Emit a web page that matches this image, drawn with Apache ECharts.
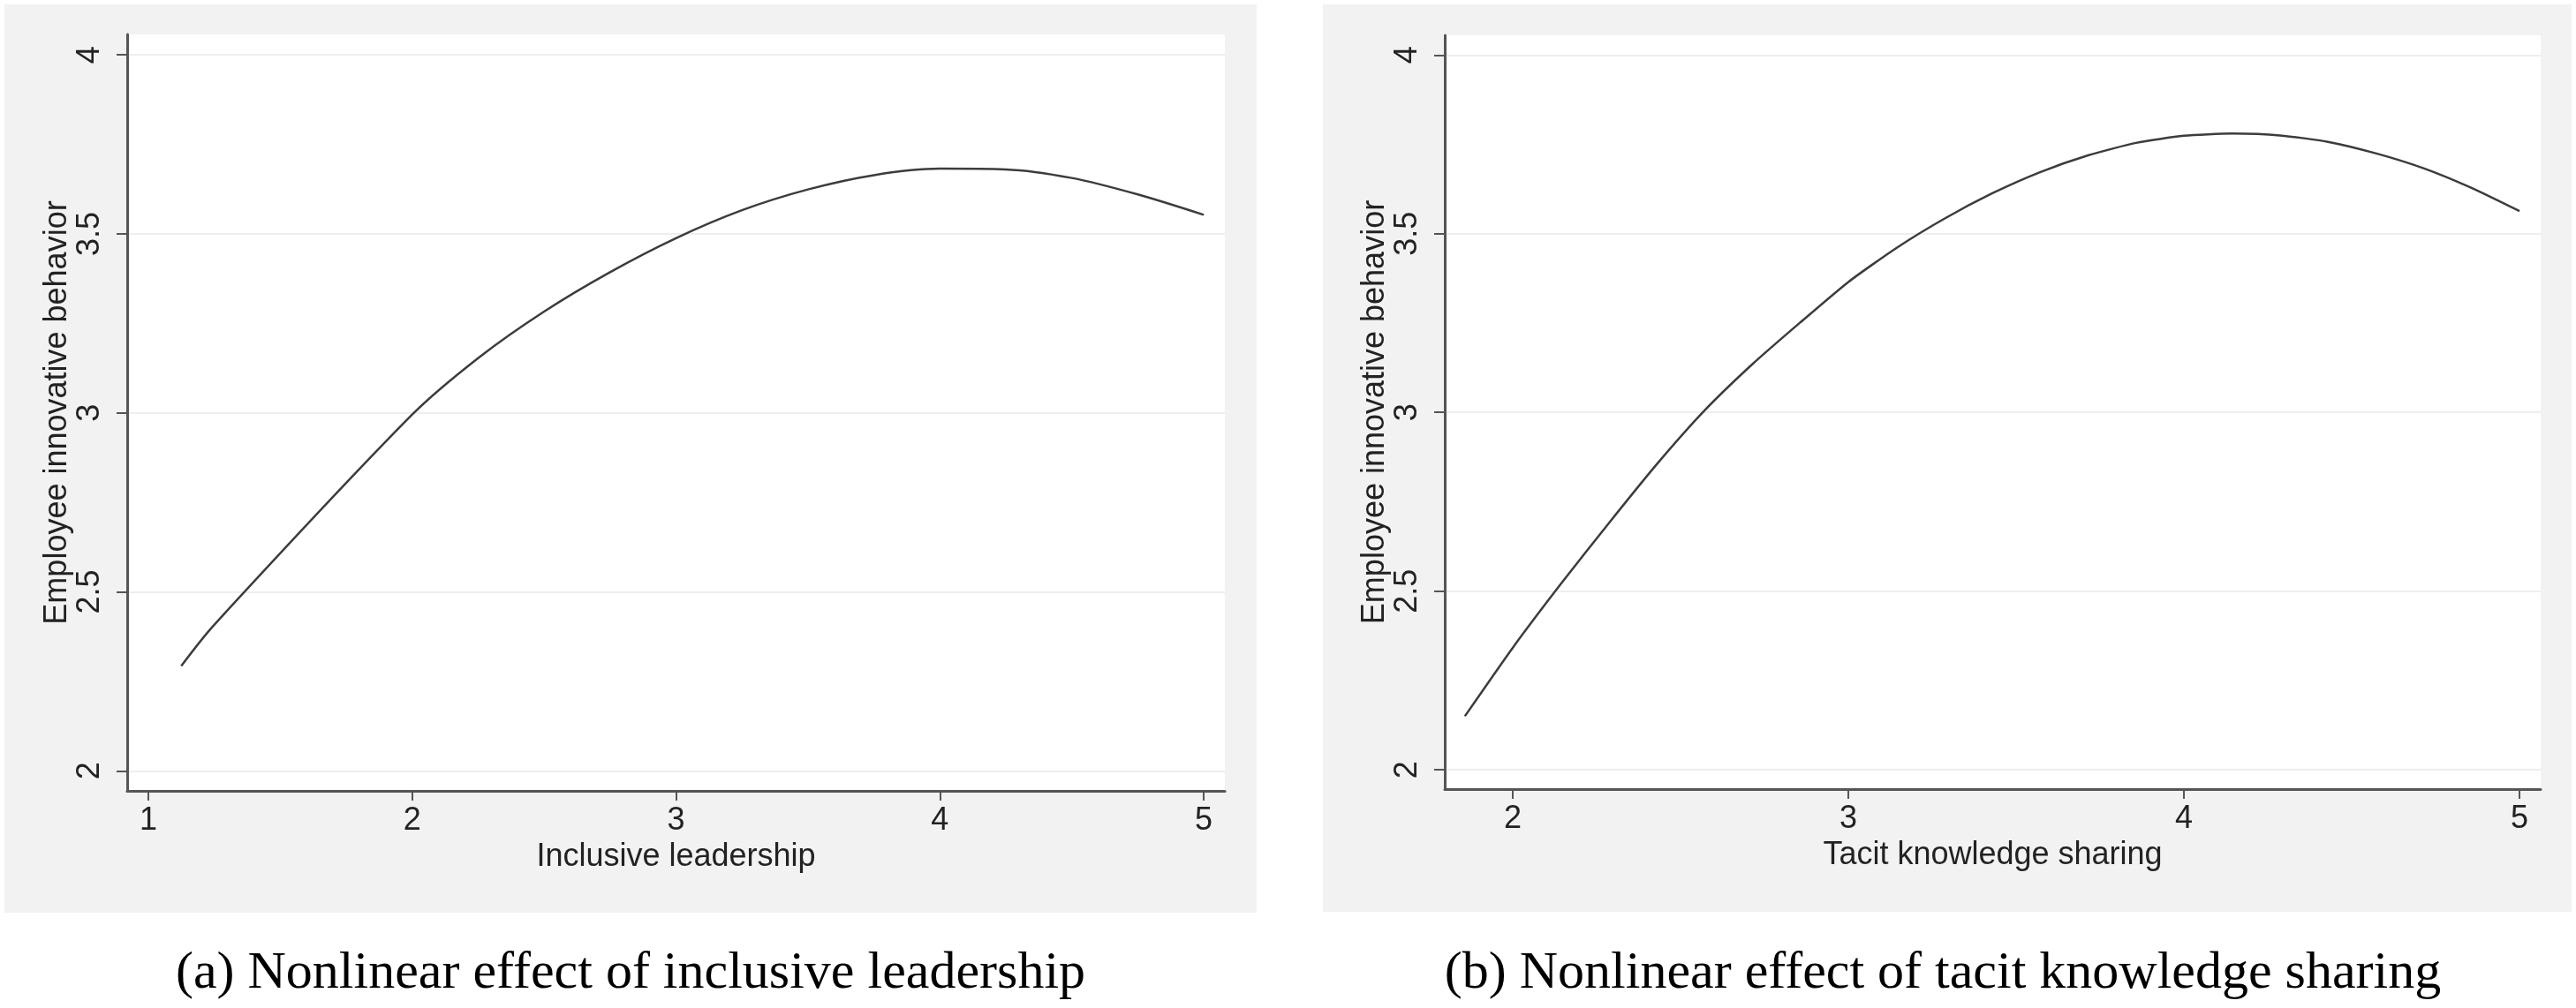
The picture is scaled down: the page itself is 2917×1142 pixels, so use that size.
<!DOCTYPE html>
<html><head><meta charset="utf-8">
<script src="https://cdn.jsdelivr.net/npm/echarts@6/dist/echarts.min.js"></script>
<style>html,body{margin:0;padding:0;background:#fff}#c{width:2917px;height:1142px}</style>
</head><body><div id="c"></div>
<script>
// Panel (a): Inclusive leadership -> Employee innovative behavior
const xA = [1.125, 1.25, 2.0, 2.25, 2.5, 2.75, 3.0, 3.25, 3.5, 3.75, 4.0, 4.25, 4.5, 4.75, 5.0];
const yA = [2.293, 2.408, 2.995, 3.153, 3.283, 3.393, 3.488, 3.566, 3.624, 3.664, 3.682, 3.680, 3.656, 3.610, 3.553];
// Panel (b): Tacit knowledge sharing -> Employee innovative behavior
const xB = [1.857, 2.0, 2.143, 2.286, 2.429, 2.571, 2.714, 2.857, 3.0, 3.143, 3.286, 3.429, 3.571, 3.714, 3.857, 4.0, 4.143, 4.286, 4.429, 4.571, 4.714, 4.857, 5.0];
const yB = [2.150, 2.342, 2.520, 2.690, 2.855, 3.005, 3.135, 3.252, 3.365, 3.460, 3.542, 3.613, 3.672, 3.719, 3.754, 3.774, 3.780, 3.775, 3.757, 3.725, 3.683, 3.628, 3.563];
// Tick labels
const xTicksA = [1, 2, 3, 4, 5];
const xTicksB = [2, 3, 4, 5];
const yTicks = [2, 2.5, 3, 3.5, 4];
// Texts
const yName = 'Employee innovative behavior';
const xNameA = 'Inclusive leadership';
const xNameB = 'Tacit knowledge sharing';
const captionA = '(a) Nonlinear effect of inclusive leadership';
const captionB = '(b) Nonlinear effect of tacit knowledge sharing';

const sans = '"Liberation Sans", Arial, Helvetica, sans-serif';
const serif = '"Liberation Serif", "Times New Roman", serif';
const axisCol = '#555555';
const textCol = '#222222';

function xAxisCfg(grid, min, max, ticks, name) {
  return {
    gridIndex: grid, type: 'value', min: min, max: max,
    axisLine: { show: true, onZero: false, lineStyle: { color: axisCol, width: 3 } },
    axisTick: { show: true, length: 11, customValues: ticks, lineStyle: { color: axisCol, width: 2 } },
    axisLabel: { customValues: ticks, fontSize: 36, color: textCol, fontFamily: sans, margin: 16 },
    splitLine: { show: false },
    name: name, nameLocation: 'middle', nameGap: 55,
    nameTextStyle: { fontSize: 36, color: textCol, fontFamily: sans }
  };
}
function yAxisCfg(grid, min, max, ticks, name) {
  return {
    gridIndex: grid, type: 'value', min: min, max: max,
    axisLine: { show: true, onZero: false, lineStyle: { color: axisCol, width: 3 } },
    axisTick: { show: true, length: 12, customValues: ticks, lineStyle: { color: axisCol, width: 2 } },
    axisLabel: { customValues: ticks, rotate: 90, fontSize: 36, color: textCol, fontFamily: sans, margin: 24 },
    splitLine: { show: true, lineStyle: { color: '#eeeeee', width: 2 } },
    name: name, nameLocation: 'middle', nameGap: 60, nameRotate: 90,
    nameTextStyle: { fontSize: 36, color: textCol, fontFamily: sans }
  };
}

const chart = echarts.init(document.getElementById('c'), null, { renderer: 'canvas' });
chart.setOption({
  animation: false,
  backgroundColor: '#ffffff',
  graphic: [
    { type: 'rect', z: -10, shape: { x: 5, y: 5, width: 1418, height: 1029 }, style: { fill: '#f2f2f2' } },
    { type: 'rect', z: -10, shape: { x: 1498, y: 5, width: 1414, height: 1028 }, style: { fill: '#f2f2f2' } },
    { type: 'text', x: 714, y: 1103, style: { text: captionA, font: '60px ' + serif, fill: '#000', align: 'center', verticalAlign: 'middle' } },
    { type: 'text', x: 2200, y: 1103, style: { text: captionB, font: '60px ' + serif, fill: '#000', align: 'center', verticalAlign: 'middle' } }
  ],
  grid: [
    { left: 144, top: 39, width: 1243, height: 857, show: true, backgroundColor: '#ffffff', borderWidth: 0 },
    { left: 1636, top: 40, width: 1241, height: 854, show: true, backgroundColor: '#ffffff', borderWidth: 0 }
  ],
  xAxis: [
    xAxisCfg(0, 0.92, 5.08, xTicksA, xNameA),
    xAxisCfg(1, 1.797, 5.063, xTicksB, xNameB)
  ],
  yAxis: [
    yAxisCfg(0, 1.944, 4.057, yTicks, yName),
    yAxisCfg(1, 1.946, 4.055, yTicks, yName)
  ],
  series: [
    { type: 'line', xAxisIndex: 0, yAxisIndex: 0, showSymbol: false, silent: true, smooth: 0.3,
      lineStyle: { color: '#3c3c3c', width: 2.5 },
      data: xA.map((x, i) => [x, yA[i]]) },
    { type: 'line', xAxisIndex: 1, yAxisIndex: 1, showSymbol: false, silent: true, smooth: 0.2,
      lineStyle: { color: '#3c3c3c', width: 2.5 },
      data: xB.map((x, i) => [x, yB[i]]) }
  ]
});
</script>
</body></html>
